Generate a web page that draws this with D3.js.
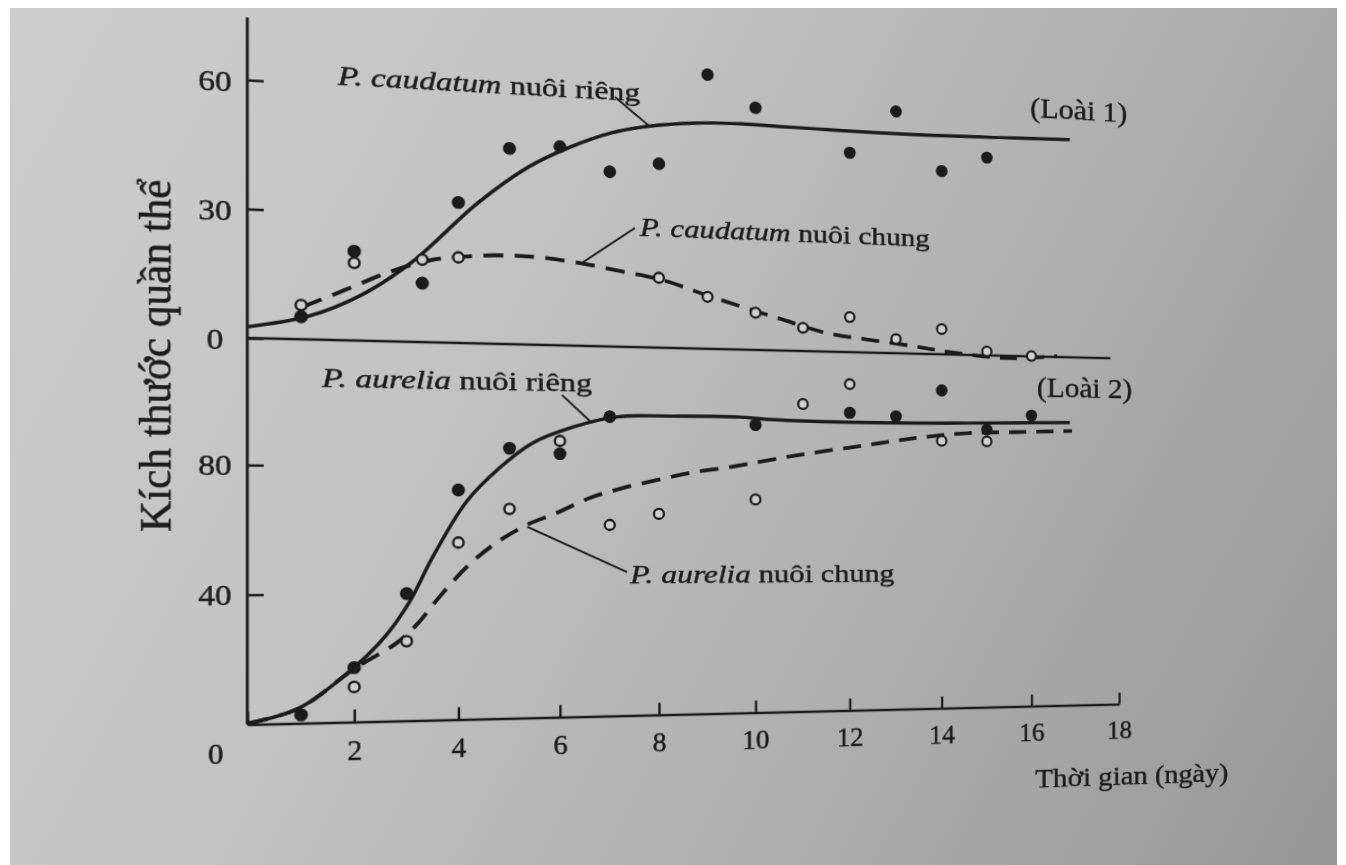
<!DOCTYPE html>
<html>
<head>
<meta charset="utf-8">
<script src="https://cdn.jsdelivr.net/npm/d3@7"></script>
<style>
  html, body { margin: 0; padding: 0; background: #fff; width: 1346px; height: 865px; overflow: hidden; }
  #page {
    position: absolute; left: 10px; top: 8px; width: 1327px; height: 857px;
    background: linear-gradient(118deg, #cdcdcd 0%, #c3c3c3 35%, #b0b0b0 65%, #979797 100%);
  }
  /* the book page was photographed at an angle: right side further away */
  #chart {
    position: absolute; left: 0; top: 0;
    transform-origin: 673px 531.5px;
    transform: perspective(1000px) rotateY(7.29deg);
    filter: blur(0.45px);
  }
  #chart text {
    font-family: "Liberation Serif", "Times New Roman", serif;
    white-space: pre;
    stroke: #1b1b1b; stroke-width: 0.45px;
  }
</style>
</head>
<body>
<div id="page"></div>
<svg id="chart" width="1346" height="865"></svg>
<script>
// Ticks
const xTicks = [0, 2, 4, 6, 8, 10, 12, 14, 16, 18];
const topTicks = [0, 30, 60];
const bottomTicks = [40, 80];

// Loài 1 : P. caudatum, points
const caudatumAloneDays = [1, 2, 3.3, 4, 5, 6, 7, 8, 9, 10, 12, 13, 14, 15];
const caudatumAloneCounts = [5.3, 21, 14, 33.5, 47, 48, 42.5, 45, 67.5, 60, 50, 61, 46.5, 50.5];
const caudatumMixedDays = [1, 2, 3.3, 4, 8, 9, 10, 11, 12, 13, 14, 15, 16];
const caudatumMixedCounts = [8, 18.3, 19.6, 20.4, 17.1, 12.8, 9.2, 5.8, 8.8, 3.6, 6.4, 1.0, 0.1];

// Loài 1 : fitted curves
const caudatumAloneCurveDays = [0, 1.13, 2.14, 3.1, 4.38, 5.37, 6.2, 7.04, 7.82, 8.74, 9.53, 10.93, 13.09, 15.3, 16.87];
const caudatumAloneCurve = [2.6, 5.4, 10.8, 18.9, 33.6, 42.7, 48.0, 52.0, 54.1, 55.4, 55.8, 55.6, 55.4, 55.8, 56.2];
const caudatumMixedCurveDays = [1.03, 1.82, 2.63, 3.48, 4.25, 5.03, 5.68, 6.42, 7.22, 8.06, 9.06, 10.45, 11.52, 12.37, 13.37, 14.25, 15.45, 16.58];
const caudatumMixedCurve = [7.6, 11.8, 16.2, 19.6, 20.8, 21.3, 21.0, 20.0, 18.4, 16.6, 12.9, 8.1, 4.6, 3.3, 1.9, 0.5, -0.6, 0.2];

// Loài 2 : P. aurelia, points
const aureliaAloneDays = [1, 2, 3, 4, 5, 6, 7, 10, 12, 13, 14, 15, 16];
const aureliaAloneCounts = [2.6, 17, 40, 72.6, 86, 84.4, 96.5, 94.5, 99, 98, 107, 94, 99];
const aureliaMixedDays = [2, 3, 4, 5, 6, 7, 8, 10, 11, 12, 14, 15];
const aureliaMixedCounts = [10.9, 25, 56, 66.7, 88.5, 61.6, 65.2, 70, 101.6, 108.5, 90, 90];

// Loài 2 : fitted curves
const aureliaAloneCurveDays = [0, 0.96, 2.01, 2.61, 3.06, 3.5, 4.16, 4.81, 5.46, 6.26, 7.15, 8.29, 9.68, 10.24, 12.37, 14.56, 16.87];
const aureliaAloneCurve = [0.3, 4.7, 17.2, 27, 37.5, 51.4, 69.0, 79.8, 87.8, 93.0, 96.5, 97, 97, 96.4, 95.8, 96.1, 96.8];
const aureliaMixedCurveDays = [0, 0.96, 2.0, 2.81, 3.19, 3.63, 4.16, 4.67, 5.34, 5.93, 6.6, 7.26, 7.96, 8.64, 9.47, 10.93, 12.37, 13.46, 14.56, 15.68, 16.92];
const aureliaMixedCurve = [0.3, 4.6, 16.6, 24.5, 30.1, 38.8, 48.2, 55.1, 61.6, 65.4, 70.3, 73.5, 76.2, 78.6, 80.6, 84.8, 88.3, 90.9, 92.7, 93.3, 93.9];

// Texts
const speciesNames = ["P. caudatum", "P. aurelia"];
const cultureNames = [" nuôi riêng", " nuôi chung"];
const panelNames = ["(Loài 1)", "(Loài 2)"];
const xTitle = "Thời gian (ngày)";
const yTitle = "Kích thước quần thể";

const ink = "#1b1b1b";
const svg = d3.select("#chart");

//     Scales (flat page coordinates, before the camera tilt)
const x = d3.scaleLinear().domain([0, 18]).range([266, 1150]);
const yTop = d3.scaleLinear().domain([0, 60]).range([348, 103.2]);
const yBot = d3.scaleLinear().domain([0, 80]).range([714.5, 468.4]);

//     Y axis line and top baseline
svg.append("line")
  .attr("x1", x(0)).attr("x2", x(0))
  .attr("y1", yTop(74.5)).attr("y2", yBot(0))
  .attr("stroke", ink).attr("stroke-width", 2.7);

svg.append("line")
  .attr("x1", x(0)).attr("x2", x(17.8))
  .attr("y1", yTop(0)).attr("y2", yTop(0))
  .attr("stroke", ink).attr("stroke-width", 2.5);

//     X axis
const gx = svg.append("g")
  .attr("transform", "translate(0," + yBot(0) + ")")
  .call(d3.axisBottom(x).tickValues(xTicks).tickSizeInner(-12).tickSizeOuter(0).tickPadding(17));
gx.attr("font-size", 28).attr("font-family", null).attr("color", ink);
gx.select(".domain").attr("stroke-width", 2.7);
gx.selectAll(".tick line").attr("stroke-width", 2.4);
gx.selectAll(".tick text").attr("dx", (d) => (d === 0 ? -29 : 0));

//     Y axes
const yAxis = (scale, ticks, shift) => {
  const g = svg.append("g")
    .attr("transform", "translate(" + x(0) + ",0)")
    .call(d3.axisLeft(scale).tickValues(ticks).tickSizeInner(-15).tickSizeOuter(0).tickPadding(29));
  g.attr("font-size", 28).attr("font-family", null).attr("color", ink);
  g.select(".domain").remove();
  g.selectAll(".tick line").attr("stroke-width", 2.4);
  g.selectAll(".tick text")
    .attr("text-anchor", "middle")
    .attr("transform", "scale(1.08,1)")
    .attr("x", -27)
    .attr("y", shift);
};
yAxis(yTop, topTicks, 2);
yAxis(yBot, bottomTicks, 0);

//     Curves
const drawCurve = (days, vals, scale, dashed) => {
  const line = d3.line()
    .x((d) => x(d[0]))
    .y((d) => scale(d[1]))
    .curve(d3.curveCatmullRom.alpha(0.5));
  svg.append("path")
    .attr("d", line(d3.zip(days, vals)))
    .attr("fill", "none")
    .attr("stroke", ink)
    .attr("stroke-width", dashed ? 3.8 : 3.4)
    .attr("stroke-dasharray", dashed ? "19,11" : null);
};
drawCurve(caudatumAloneCurveDays, caudatumAloneCurve, yTop, false);
drawCurve(caudatumMixedCurveDays, caudatumMixedCurve, yTop, true);
drawCurve(aureliaAloneCurveDays, aureliaAloneCurve, yBot, false);
drawCurve(aureliaMixedCurveDays, aureliaMixedCurve, yBot, true);

//     Leader lines
const leaders = [
  [yTop, [7.1, 60.8], [7.8, 54.1]],
  [yTop, [6.44, 20.1], [7.51, 29.05]],
  [yBot, [6.04, 103.25], [6.6, 95.0]],
  [yBot, [5.35, 61.0], [7.35, 46.4]],
];
leaders.forEach(([scale, a, b]) => {
  svg.append("line")
    .attr("x1", x(a[0])).attr("y1", scale(a[1]))
    .attr("x2", x(b[0])).attr("y2", scale(b[1]))
    .attr("stroke", ink).attr("stroke-width", 1.9);
});

//     Points
const drawDots = (days, vals, scale, open) => {
  svg.append("g")
    .selectAll("circle")
    .data(d3.zip(days, vals))
    .enter()
    .append("circle")
    .attr("cx", (d) => x(d[0]))
    .attr("cy", (d) => scale(d[1]))
    .attr("r", open ? 5.0 : 6.3)
    .attr("fill", open ? "#cecece" : ink)
    .attr("stroke", open ? ink : "none")
    .attr("stroke-width", 2.3);
};
drawDots(caudatumAloneDays, caudatumAloneCounts, yTop, false);
drawDots(caudatumMixedDays, caudatumMixedCounts, yTop, true);
drawDots(aureliaAloneDays, aureliaAloneCounts, yBot, false);
drawDots(aureliaMixedDays, aureliaMixedCounts, yBot, true);

//     Labels (stretched to the width they have in the book)
const addLabel = (px, py, parts, width, size, rotate) => {
  const t = svg.append("text").attr("font-size", size).attr("fill", ink);
  parts.forEach((p) => {
    t.append("tspan").attr("font-style", p[1] ? "italic" : "normal").text(p[0]);
  });
  const natural = t.node().getComputedTextLength();
  if (rotate) t.attr("text-anchor", "middle");
  t.attr("transform",
    "translate(" + px + "," + py + ")" + (rotate ? " rotate(-90)" : "") +
    " scale(" + (width / natural) + ",1)");
};

addLabel(x(1.69), yTop(60.0), [[speciesNames[0], true], [cultureNames[0], false]], 291, 26);
addLabel(x(7.61), yTop(27.15), [[speciesNames[0], true], [cultureNames[1], false]], 301, 26);
addLabel(x(15.97), yTop(61.5), [[panelNames[0], false]], 109, 29);
addLabel(x(1.39), yBot(104.5), [[speciesNames[1], true], [cultureNames[0], false]], 258, 26);
addLabel(x(7.41), yBot(42.85), [[speciesNames[1], true], [cultureNames[1], false]], 273, 26);
addLabel(x(16.12), yBot(105.4), [[panelNames[1], false]], 107, 29);
addLabel(x(16.08), yBot(-27.9), [[xTitle, false]], 220, 28);
addLabel(x(0) - 69.5, 366.6, [[yTitle, false]], 331, 40, true);
</script>
</body>
</html>
